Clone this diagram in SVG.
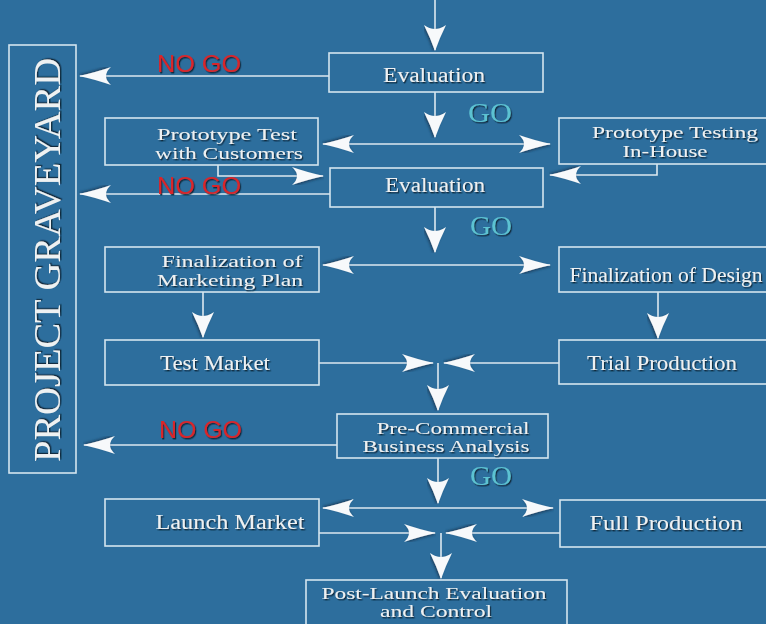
<svg xmlns="http://www.w3.org/2000/svg" width="766" height="624" viewBox="0 0 766 624">
  <defs>
    <filter id="emboss" x="-10%" y="-30%" width="130%" height="170%">
      <feDropShadow dx="1.2" dy="1.4" stdDeviation="0.6" flood-color="#0d2236" flood-opacity="0.9"/>
    </filter>
    <filter id="headShade" x="-30%" y="-40%" width="160%" height="180%">
      <feDropShadow dx="1" dy="1.5" stdDeviation="0.8" flood-color="#123a5a" flood-opacity="0.8"/>
    </filter>
    <!-- swept arrowhead for horizontal runs -->
    <marker id="headH" viewBox="0 0 32 18" refX="31" refY="9" markerWidth="32" markerHeight="18" markerUnits="userSpaceOnUse" orient="auto-start-reverse">
      <path d="M32,9 Q14,5 0,0 Q10,9 0,18 Q14,13 32,9 Z" fill="#f7f9fb" filter="url(#headShade)"/>
    </marker>
    <!-- squatter arrowhead for vertical runs -->
    <marker id="headV" viewBox="0 0 26 22" refX="25" refY="11" markerWidth="26" markerHeight="22" markerUnits="userSpaceOnUse" orient="auto">
      <path d="M26,11 Q12,6 0,0 Q8,11 0,22 Q12,16 26,11 Z" fill="#f7f9fb" filter="url(#headShade)"/>
    </marker>
  </defs>
  <style>
    .box { fill: none; stroke: #d4e5ef; stroke-width: 1.6; }
    .lbl { font-family: "Liberation Serif", "Times New Roman", serif; font-size: 20px; fill: #eef1f2; text-anchor: middle; filter: url(#emboss); }
    .two { font-size: 17px; }
    .nogo { font-family: "Liberation Sans", Arial, sans-serif; font-size: 24px; fill: #d8262c; filter: url(#emboss); }
    .go { font-family: "Liberation Serif", "Times New Roman", serif; font-size: 28px; fill: #5cc2d2; filter: url(#emboss); }
    .yard { font-family: "Liberation Serif", "Times New Roman", serif; font-size: 38px; fill: #eef1f2; text-anchor: middle; filter: url(#emboss); }
    .ln { fill: none; stroke: #dde9f0; stroke-width: 1.6; }
    .h { marker-end: url(#headH); }
    .hh { marker-start: url(#headH); marker-end: url(#headH); }
    .v { marker-end: url(#headV); }
  </style>

  <rect width="766" height="624" fill="#2d6e9d"/>

  <!-- connectors -->
  <g id="connectors">
    <path class="ln v" d="M435,0 V50"/>
    <path class="ln v" d="M435,92 V137"/>
    <path class="ln h" d="M329,76 H80"/>
    <path class="ln hh" d="M323,144 H550"/>
    <path class="ln h" d="M218,165 V176 H323"/>
    <path class="ln h" d="M657,164 V175 H550"/>
    <path class="ln h" d="M330,194 H80"/>
    <path class="ln v" d="M435,207 V252"/>
    <path class="ln hh" d="M323,265 H550"/>
    <path class="ln v" d="M203,292 V337"/>
    <path class="ln v" d="M658,292 V338"/>
    <path class="ln h" d="M319,363 H433"/>
    <path class="ln h" d="M559,363 H444"/>
    <path class="ln v" d="M438,363 V410"/>
    <path class="ln h" d="M337,445 H84"/>
    <path class="ln v" d="M438,458 V503"/>
    <path class="ln hh" d="M323,508 H553"/>
    <path class="ln h" d="M319,533 H435"/>
    <path class="ln h" d="M560,533 H446"/>
    <path class="ln v" d="M441,533 V578"/>
  </g>

  <!-- decision labels -->
  <g id="decisions">
    <text class="nogo" x="157" y="72" textLength="84" lengthAdjust="spacingAndGlyphs">NO GO</text>
    <text class="nogo" x="157" y="194" textLength="84" lengthAdjust="spacingAndGlyphs">NO GO</text>
    <text class="nogo" x="159" y="438" textLength="83" lengthAdjust="spacingAndGlyphs">NO GO</text>
    <text class="go" x="468" y="122" textLength="44" lengthAdjust="spacingAndGlyphs">GO</text>
    <text class="go" x="470" y="235" textLength="42" lengthAdjust="spacingAndGlyphs">GO</text>
    <text class="go" x="470" y="485" textLength="42" lengthAdjust="spacingAndGlyphs">GO</text>
  </g>

  <g id="graveyard">
    <rect class="box" x="9" y="45" width="67" height="428"/>
    <text class="yard" transform="translate(60,260) rotate(-90)" x="0" y="0" textLength="404" lengthAdjust="spacingAndGlyphs">PROJECT  GRAVEYARD</text>
  </g>

  <g id="evaluation1">
    <rect class="box" x="329" y="53" width="214" height="39"/>
    <text class="lbl" x="434" y="82" textLength="102" lengthAdjust="spacingAndGlyphs">Evaluation</text>
  </g>

  <g id="proto-customers">
    <rect class="box" x="105" y="118" width="213" height="47"/>
    <text class="lbl two" x="227" y="140" textLength="140" lengthAdjust="spacingAndGlyphs">Prototype Test</text>
    <text class="lbl two" x="229" y="159" textLength="148" lengthAdjust="spacingAndGlyphs">with Customers</text>
  </g>

  <g id="proto-inhouse">
    <rect class="box" x="559" y="118" width="230" height="46"/>
    <text class="lbl two" x="675" y="138" textLength="166" lengthAdjust="spacingAndGlyphs">Prototype Testing</text>
    <text class="lbl two" x="665" y="157" textLength="85" lengthAdjust="spacingAndGlyphs">In-House</text>
  </g>

  <g id="evaluation2">
    <rect class="box" x="330" y="168" width="213" height="39"/>
    <text class="lbl" x="435" y="192" textLength="100" lengthAdjust="spacingAndGlyphs">Evaluation</text>
  </g>

  <g id="marketing-plan">
    <rect class="box" x="105" y="247" width="214" height="45"/>
    <text class="lbl two" x="232" y="267" textLength="141" lengthAdjust="spacingAndGlyphs">Finalization of</text>
    <text class="lbl two" x="230" y="286" textLength="146" lengthAdjust="spacingAndGlyphs">Marketing Plan</text>
  </g>

  <g id="design">
    <rect class="box" x="559" y="247" width="230" height="45"/>
    <text class="lbl" x="666" y="282" textLength="193" lengthAdjust="spacingAndGlyphs">Finalization of Design</text>
  </g>

  <g id="test-market">
    <rect class="box" x="105" y="340" width="214" height="45"/>
    <text class="lbl" x="215" y="370" textLength="110" lengthAdjust="spacingAndGlyphs">Test Market</text>
  </g>

  <g id="trial-production">
    <rect class="box" x="559" y="340" width="230" height="44"/>
    <text class="lbl" x="662" y="370" textLength="150" lengthAdjust="spacingAndGlyphs">Trial Production</text>
  </g>

  <g id="business-analysis">
    <rect class="box" x="337" y="414" width="211" height="44"/>
    <text class="lbl two" x="453" y="434" textLength="153" lengthAdjust="spacingAndGlyphs">Pre-Commercial</text>
    <text class="lbl two" x="446" y="452" textLength="167" lengthAdjust="spacingAndGlyphs">Business Analysis</text>
  </g>

  <g id="launch-market">
    <rect class="box" x="105" y="499" width="214" height="47"/>
    <text class="lbl" x="230" y="529" textLength="149" lengthAdjust="spacingAndGlyphs">Launch  Market</text>
  </g>

  <g id="full-production">
    <rect class="box" x="560" y="500" width="230" height="47"/>
    <text class="lbl" x="666" y="530" textLength="153" lengthAdjust="spacingAndGlyphs">Full  Production</text>
  </g>

  <g id="post-launch">
    <rect class="box" x="306" y="580" width="261" height="60"/>
    <text class="lbl two" x="434" y="599" textLength="225" lengthAdjust="spacingAndGlyphs">Post-Launch Evaluation</text>
    <text class="lbl two" x="436" y="617" textLength="112" lengthAdjust="spacingAndGlyphs">and Control</text>
  </g>
</svg>
